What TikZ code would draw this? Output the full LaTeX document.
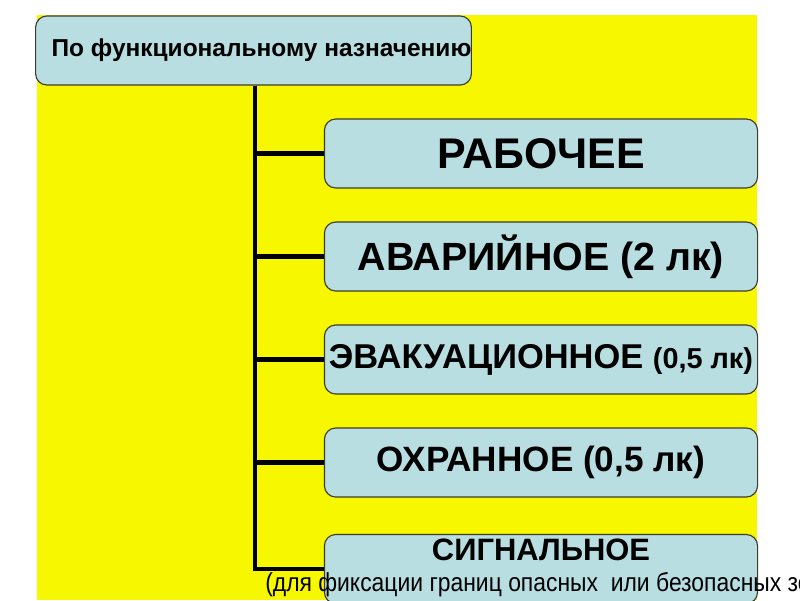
\documentclass[tikz,border=0pt]{standalone}
\usepackage{fontspec}
\setmainfont{Liberation Sans}
\newfontfamily\narrowfont[FakeStretch=0.88]{Liberation Sans}
\usepackage{xcolor}
\usetikzlibrary{positioning}
\definecolor{bgyellow}{RGB}{247,247,0}
\definecolor{boxfill}{RGB}{184,222,226}
\definecolor{boxline}{RGB}{60,60,40}

\begin{document}
\begin{tikzpicture}[x=0.025cm, y=-0.025cm,
    box/.style={draw=boxline, line width=0.8pt, rounded corners=8pt, fill=boxfill,
                minimum width=10.825cm, minimum height=1.725cm, inner sep=0pt, align=center},
    branch/.style={line width=3.2pt, black},
    big/.style={font=\bfseries\fontsize{#1}{#1}\selectfont},
]
    \useasboundingbox (0,0) rectangle (800,600);
    \fill[white] (0,0) rectangle (800,600);
    \fill[bgyellow] (37,15) rectangle (757,600);

    \node[box, big=17.4] (top) at (253.5,50.5) {\hspace*{0.4cm}По функциональному назначению};

    \node[box, big=30.5] (work) at (541,153.5) {РАБОЧЕЕ};
    \node[box, big=28] (emerg) at (541,256.5) {АВАРИЙНОЕ (2 лк)};
    \node[box, big=24.5] (evac) at (541,359.5) {ЭВАКУАЦИОННОЕ {\fontsize{20.5}{20.5}\selectfont (0,5 лк)}};
    \node[box, big=25] (guard) at (541,462.5) {ОХРАННОЕ (0,5 лк)};
    \node[box] (signal) at (541,569) {};
    \node[big=22] (sigtext) at (541,550) {СИГНАЛЬНОЕ};

    \draw[branch] (top.south -| 255,0) |- (signal.west);
    \foreach \n in {work,emerg,evac,guard}
        \draw[branch] (top.south -| 255,0) |- (\n.west);

    \node[anchor=west, font=\narrowfont\fontsize{18.5}{18.5}\selectfont, inner sep=0pt] (signote) at (265,585)
        {(для фиксации границ опасных \ или безопасных зон)};
\end{tikzpicture}
\end{document}
